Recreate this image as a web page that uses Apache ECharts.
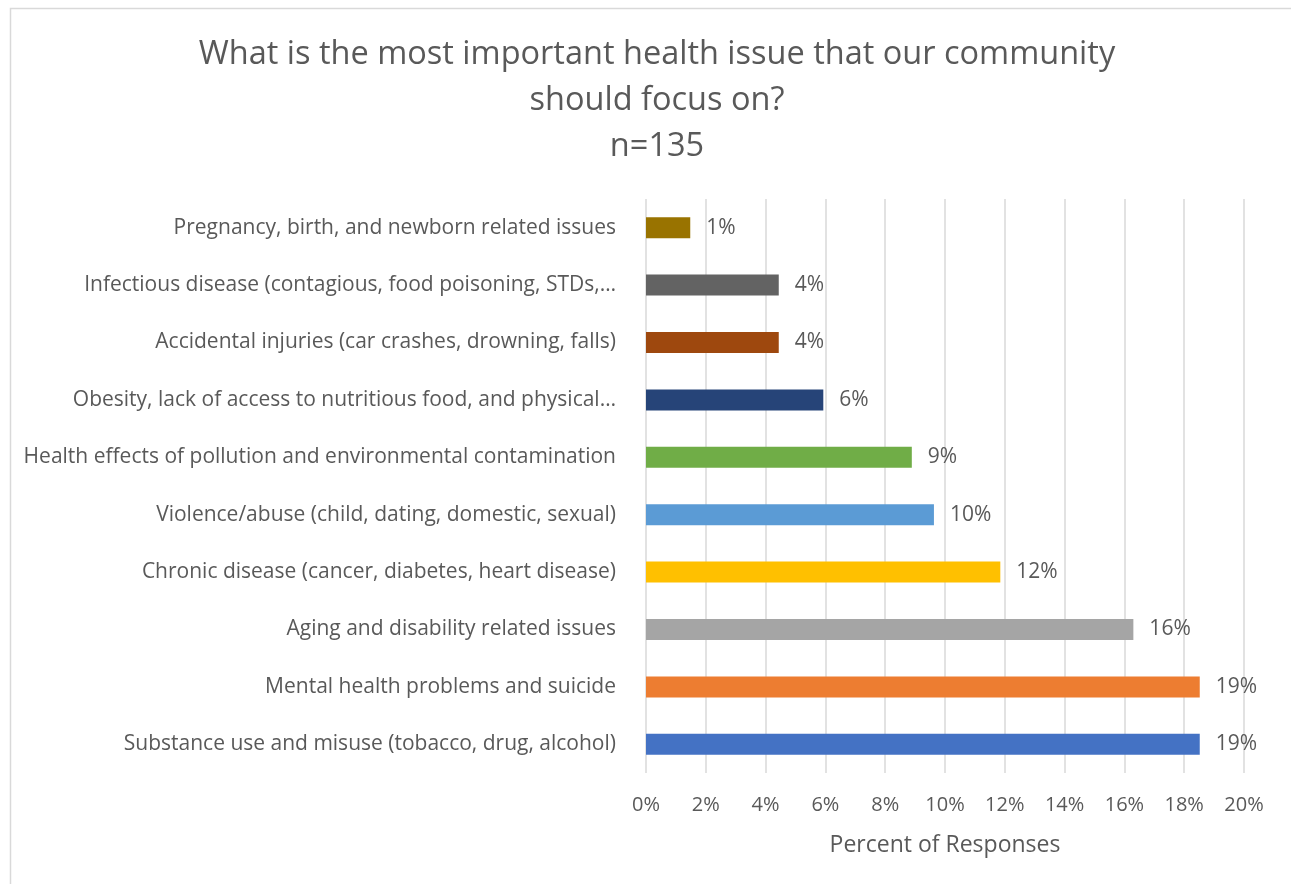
<!DOCTYPE html>
<html><head><meta charset="utf-8">
<script src="https://cdn.jsdelivr.net/npm/echarts@6/dist/echarts.min.js"></script>
<style>html,body{margin:0;padding:0;background:#fff}#c{width:1291px;height:884px}</style>
</head><body><div id="c"></div>
<script>
const categories = [
  "Substance use and misuse (tobacco, drug, alcohol)",
  "Mental health problems and suicide",
  "Aging and disability related issues",
  "Chronic disease (cancer, diabetes, heart disease)",
  "Violence/abuse (child, dating, domestic, sexual)",
  "Health effects of pollution and environmental contamination",
  "Obesity, lack of access to nutritious food, and physical\u2026",
  "Accidental injuries (car crashes, drowning, falls)",
  "Infectious disease (contagious, food poisoning, STDs,\u2026",
  "Pregnancy, birth, and newborn related issues"
];
const values = [18.52, 18.52, 16.30, 11.85, 9.63, 8.89, 5.93, 4.44, 4.44, 1.48];
const barColors = ["#4472C4","#ED7D31","#A5A5A5","#FFC000","#5B9BD5","#70AD47","#264478","#9E480E","#636363","#997300"];
const xTicks = [0,2,4,6,8,10,12,14,16,18,20];
const titleLines = ["What is the most important health issue that our community","should focus on?","n=135"];
const axisTitle = "Percent of Responses";

const FONT = "'Open Sans', 'Liberation Sans', sans-serif";
const chart = echarts.init(document.getElementById('c'));
chart.setOption({
  animation: false,
  textStyle: {fontFamily: FONT},
  graphic: [{type:'rect', shape:{x:10.5,y:8.5,width:1290,height:900}, style:{fill:'none', stroke:'#d9d9d9', lineWidth:1.5}, silent:true}],
  title: {
    text: titleLines.join('\n'),
    left: 652, top: 27, textAlign: 'center',
    textStyle: {fontFamily: FONT, fontSize: 32.5, fontWeight: 'normal', color: '#595959', lineHeight: 46}
  },
  grid: {left: 646, top: 199, width: 598, height: 574, containLabel: false},
  xAxis: {
    type: 'value', min: 0, max: 20, interval: 2,
    name: axisTitle, nameLocation: 'middle', nameGap: 61,
    nameTextStyle: {fontFamily: FONT, fontSize: 23, color: '#595959'},
    axisLine: {show: false}, axisTick: {show: false},
    axisLabel: {formatter: v => v + '%', fontSize: 20, color: '#595959', margin: 22},
    splitLine: {lineStyle: {color: '#d9d9d9', width: 1.5}}
  },
  yAxis: {
    type: 'category', data: categories,
    axisLine: {show: false}, axisTick: {show: false},
    axisLabel: {fontSize: 21, color: '#595959', margin: 30}
  },
  series: [{
    type: 'bar',
    data: values.map((v, i) => ({value: v, itemStyle: {color: barColors[i]}})),
    barWidth: 21,
    label: {show: true, position: 'right', distance: 16, fontSize: 21, color: '#595959', formatter: p => Math.round(p.value) + '%'}
  }]
});
</script></body></html>
